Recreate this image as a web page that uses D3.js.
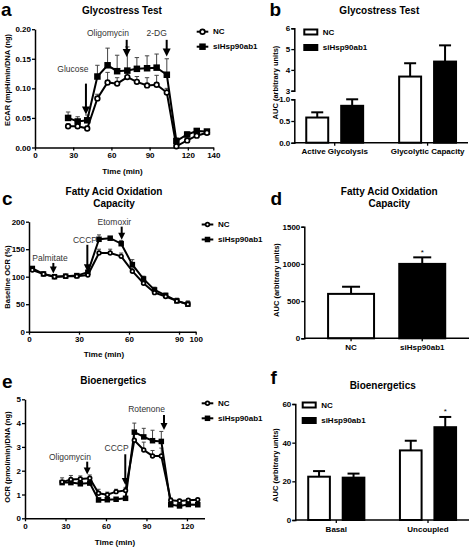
<!DOCTYPE html>
<html><head><meta charset="utf-8">
<script src="https://cdn.jsdelivr.net/npm/d3@7"></script>
<style>body{margin:0;background:#fff} text{font-family:"Liberation Sans",Arial,sans-serif}</style>
</head><body><svg id="c" width="472" height="547"></svg>
<script>
// ---------- data ----------
const seriesNames = ["NC", "siHsp90ab1"];

// panel a: Glycostress time course
const glycoTime  = [26, 33.5, 41, 49, 57, 64.5, 72.5, 80, 88, 95.5, 103.5, 111, 119.5, 127, 135];
const glycoNC    = [0.036, 0.036, 0.032, 0.083, 0.110, 0.108, 0.119, 0.111, 0.105, 0.106, 0.093, 0.002, 0.012, 0.020, 0.025];
const glycoNCErr = [0.040, 0.040, 0.036, 0.090, 0.127, 0.118, 0.128, 0.120, 0.118, 0.122, 0.100, 0.004, 0.016, 0.024, 0.028];
const glycoSi    = [0.050, 0.044, 0.046, 0.120, 0.139, 0.129, 0.130, 0.133, 0.134, 0.135, 0.123, 0.011, 0.022, 0.028, 0.027];
const glycoSiErr = [0.060, 0.052, 0.055, 0.139, 0.168, 0.156, 0.170, 0.152, 0.155, 0.158, 0.150, 0.016, 0.026, 0.031, 0.030];
const glycoXTicks = [0, 30, 60, 90, 120, 140];
const glycoYTicks = [0, 0.05, 0.10, 0.15, 0.20];
const glycoArrows = [
  {label: "Glucose",    t: 40,    top: 0.108, tip: 0.056, lt: 29.8, lv: 0.133},
  {label: "Oligomycin", t: 72,    top: 0.182, tip: 0.153, lt: 57.3, lv: 0.194},
  {label: "2-DG",       t: 103.4, top: 0.182, tip: 0.154, lt: 95.5, lv: 0.194}
];

// panel b: Glycostress AUC
const glycoCats     = ["Active Glycolysis", "Glycolytic Capacity"];
const glycoAucNC    = [0.58, 3.68];
const glycoAucNCErr = [0.70, 4.32];
const glycoAucSi    = [0.85, 4.40];
const glycoAucSiErr = [1.00, 5.18];
const glycoAucLowTicks  = [0, 0.5, 1.0];
const glycoAucHighTicks = [3, 4, 5, 6];

// panel c: FAO time course
const faoTime  = [2, 8.7, 15.3, 22, 28.7, 35.3, 42, 48.7, 55.3, 62, 68.7, 75.3, 82, 88.7, 95.3];
const faoNC    = [112, 105, 100, 101, 101, 103, 143, 143, 137, 110, 88, 71, 64, 56, 50];
const faoNCErr = [116, 108, 103, 103, 104, 106, 150, 150, 143, 116, 93, 75, 68, 61, 56];
const faoSi    = [115, 105, 100, 101, 102, 108, 168, 170, 160, 122, 96, 76, 66, 56, 50];
const faoSiErr = [118, 107, 102, 103, 105, 112, 176, 172, 166, 131, 101, 81, 70, 60, 55];
const faoXTicks = [0, 30, 60, 90, 100];
const faoYTicks = [0, 50, 100, 150, 200];
const faoArrows = [
  {label: "Palmitate", t: 14.6, top: 125, tip: 106, lt: 12.6, lv: 134},
  {label: "CCCP",      t: 35,   top: 158, tip: 110, lt: 33.6, lv: 167},
  {label: "Etomoxir",  t: 55.6, top: 191, tip: 167, lt: 51.2, lv: 200}
];

// panel d: FAO AUC
const faoAucCats = ["NC", "siHsp90ab1"];
const faoAuc     = [597, 1000];
const faoAucErr  = [693, 1088];
const faoAucSig  = ["", "*"];
const faoAucTicks = [0, 500, 1000, 1500];

// panel e: Bioenergetics time course
const bioTime  = [27.5, 34, 41, 48, 54.5, 61, 67.5, 74.5, 81, 88, 94.5, 101, 108, 114.5, 121, 128];
const bioNC    = [1.52, 1.63, 1.65, 1.68, 1.05, 0.99, 1.12, 1.17, 3.28, 2.87, 2.62, 2.62, 0.76, 0.73, 0.76, 0.78];
const bioNCErr = [1.70, 1.80, 1.78, 1.82, 1.22, 1.10, 1.22, 1.30, 3.60, 3.20, 2.85, 2.95, 0.85, 0.80, 0.82, 0.84];
const bioSi    = [1.50, 1.50, 1.45, 1.48, 0.77, 0.78, 0.80, 0.84, 3.62, 3.42, 3.26, 3.23, 0.57, 0.52, 0.58, 0.57];
const bioSiErr = [1.60, 1.60, 1.55, 1.60, 0.85, 0.85, 0.86, 0.92, 4.00, 3.78, 3.70, 3.65, 0.65, 0.60, 0.65, 0.64];
const bioXTicks = [0, 30, 60, 90, 120];
const bioYTicks = [0, 1, 2, 3, 4, 5];
const bioArrows = [
  {label: "Oligomycin", t: 46.1, top: 2.38, tip: 1.84, lt: 33.3, lv: 2.56},
  {label: "CCCP",       t: 74.3, top: 2.69, tip: 1.40, lt: 67.9, lv: 2.94},
  {label: "Rotenone",   t: 103,  top: 4.34, tip: 3.71, lt: 90.1, lv: 4.58}
];

// panel f: Bioenergetics AUC
const bioCats     = ["Basal", "Uncoupled"];
const bioAucNC    = [22.4, 36.0];
const bioAucNCErr = [25.3, 41.0];
const bioAucSi    = [21.9, 48.0];
const bioAucSiErr = [24.0, 53.3];
const bioAucSigNC = ["", ""];
const bioAucSigSi = ["", "*"];
const bioAucTicks = [0, 20, 40, 60];

// ---------- drawing ----------
const FONT = '"Liberation Sans", Arial, sans-serif';
const svg = d3.select("#c");
svg.append("rect").attr("width", 472).attr("height", 547).attr("fill", "#fff");

function txt(g, x, y, s, o = {}) {
  const t = g.append("text").attr("x", x).attr("y", y).text(s)
    .attr("font-family", FONT)
    .attr("font-size", o.size || 8)
    .attr("font-weight", o.weight || "bold")
    .attr("text-anchor", o.anchor || "middle")
    .attr("dominant-baseline", o.base || "central")
    .attr("fill", o.fill || "#000");
  if (o.rotate) t.attr("transform", `rotate(-90,${x},${y})`);
  return t;
}
function styleAxis(sel) {
  sel.select(".domain").attr("stroke", "#000").attr("stroke-width", 1.5);
  sel.selectAll(".tick line").attr("stroke", "#000").attr("stroke-width", 1.3);
  sel.selectAll(".tick text").attr("font-size", 8).attr("font-weight", "bold")
    .attr("font-family", FONT).attr("fill", "#000");
}
function arrow(g, x, yTop, yTip, hw, hl, sw) {
  g.append("line").attr("x1", x).attr("x2", x).attr("y1", yTop).attr("y2", yTip - hl + 1)
    .attr("stroke", "#000").attr("stroke-width", sw);
  g.append("path").attr("d", `M${x - hw / 2},${yTip - hl}L${x + hw / 2},${yTip - hl}L${x},${yTip}Z`)
    .attr("fill", "#000");
}
function drawMarker(g, kind, cx, cy, ms) {
  if (kind === "sq") {
    g.append("rect").attr("x", cx - ms / 2).attr("y", cy - ms / 2).attr("width", ms).attr("height", ms).attr("fill", "#000");
  } else {
    g.append("circle").attr("cx", cx).attr("cy", cy).attr("r", ms / 2 - 0.9)
      .attr("fill", "#fff").attr("stroke", "#000").attr("stroke-width", 1.7);
  }
}

function linePanel(o) {
  const g = svg.append("g");
  const x = d3.scaleLinear().domain(o.xDomain).range(o.xRange);
  const y = d3.scaleLinear().domain(o.yDomain).range(o.yRange);
  const xa = g.append("g").attr("transform", `translate(0,${o.yRange[0]})`)
    .call(d3.axisBottom(x).tickValues(o.xTicks).tickSize(3).tickSizeOuter(0).tickPadding(2).tickFormat(d3.format("d")));
  styleAxis(xa);
  const ya = g.append("g").attr("transform", `translate(${o.xRange[0]},0)`)
    .call(d3.axisLeft(y).tickValues(o.yTicks).tickSize(3).tickSizeOuter(0).tickPadding(1).tickFormat(o.yFmt));
  styleAxis(ya);

  const series = [
    {v: o.si, e: o.siErr, kind: "sq"},
    {v: o.nc, e: o.ncErr, kind: "ci"}
  ];
  series.forEach(s => {
    o.t.forEach((t, i) => {
      const cx = x(t);
      g.append("line").attr("x1", cx).attr("x2", cx).attr("y1", y(s.v[i])).attr("y2", y(s.e[i]))
        .attr("stroke", "#444").attr("stroke-width", 1);
      g.append("line").attr("x1", cx - o.cap).attr("x2", cx + o.cap).attr("y1", y(s.e[i])).attr("y2", y(s.e[i]))
        .attr("stroke", "#444").attr("stroke-width", 1);
    });
  });
  o.arrows.forEach(a => {
    arrow(g, x(a.t), y(a.top), y(a.tip), o.hw, o.hl, 2);
    txt(g, x(a.lt), y(a.lv), a.label, {weight: "normal", size: 8.5, fill: "#333"});
  });
  const line = d3.line().x((d, i) => x(o.t[i])).y(d => y(d));
  series.forEach(s => {
    g.append("path").datum(s.v).attr("d", line).attr("fill", "none")
      .attr("stroke", "#000").attr("stroke-width", o.lw);
    o.t.forEach((t, i) => drawMarker(g, s.kind, x(t), y(s.v[i]), o.ms));
  });
  o.title.forEach((tl, i) => txt(g, o.titleX, o.titleY + i * 11.5, tl, {size: 10}));
  txt(g, o.letterX, o.letterY, o.letter, {size: 19, anchor: "start", base: "auto"});
  txt(g, o.xLabelX, o.xLabelY, "Time (min)");
  txt(g, o.yLabelX, o.yLabelY, o.yLabel, {size: 7.5, rotate: true});
  [{k: "ci", n: seriesNames[0]}, {k: "sq", n: seriesNames[1]}].forEach((l, i) => {
    const ly = o.legY + i * 15;
    g.append("line").attr("x1", o.legX).attr("x2", o.legX + 11.6).attr("y1", ly).attr("y2", ly)
      .attr("stroke", "#000").attr("stroke-width", 2);
    drawMarker(g, l.k, o.legX + 5.8, ly, o.ms);
    txt(g, o.legX + 16.3, ly, l.n, {anchor: "start"});
  });
}

function barPanel(o) {
  const g = svg.append("g");
  const x0 = d3.scaleBand().domain(o.cats).range(o.xRange).paddingInner(o.pi).paddingOuter(o.po);
  const x1 = d3.scaleBand().domain(o.series).range([0, x0.bandwidth()]).paddingInner(o.spi);
  o.cats.forEach((c, ci) => {
    o.series.forEach((s, si) => {
      const v = o.vals[si][ci], e = o.errs[si][ci];
      const ys = o.yFor(v);
      const bx = x0(c) + x1(s), bw = x1.bandwidth(), cx = bx + bw / 2;
      const yv = ys(v), ye = ys(e);
      g.append("line").attr("x1", cx).attr("x2", cx).attr("y1", yv).attr("y2", ye).attr("stroke", "#000").attr("stroke-width", 2);
      g.append("line").attr("x1", cx - o.cap).attr("x2", cx + o.cap).attr("y1", ye).attr("y2", ye).attr("stroke", "#000").attr("stroke-width", 2);
      g.append("rect").attr("x", bx + 1).attr("y", yv).attr("width", bw - 2).attr("height", o.base - yv)
        .attr("fill", o.fills[si][ci]).attr("stroke", "#000").attr("stroke-width", 2);
      const sig = o.sig ? o.sig[si][ci] : "";
      if (sig) txt(g, cx, ye - 5, sig, {size: 8, weight: "normal"});
    });
  });
  const xa = g.append("g").attr("transform", `translate(0,${o.base})`)
    .call(d3.axisBottom(x0).tickSize(3).tickSizeOuter(0).tickPadding(3));
  styleAxis(xa);
  xa.select(".domain").attr("d", `M${o.xRange[0]},0H${o.xRange[1]}`);
  o.yAxes.forEach(ax => {
    const a = g.append("g").attr("transform", `translate(${o.xRange[0]},0)`)
      .call(d3.axisLeft(ax.scale).tickValues(ax.ticks).tickSize(3).tickSizeOuter(3).tickPadding(1).tickFormat(ax.fmt));
    styleAxis(a);
  });
  o.title.forEach((tl, i) => txt(g, o.titleX, o.titleY + i * 11.5, tl, {size: 10}));
  txt(g, o.letterX, o.letterY, o.letter, {size: 19, anchor: "start", base: "auto"});
  txt(g, o.yLabelX, o.yLabelY, "AUC (arbitrary units)", {size: 7.5, rotate: true});
  if (o.legY != null) {
    seriesNames.forEach((s, i) => {
      const ly = o.legY + i * 15.5;
      g.append("rect").attr("x", o.legX).attr("y", ly - 2.5).attr("width", 13).attr("height", 5)
        .attr("fill", i === 0 ? "#fff" : "#000").attr("stroke", "#000").attr("stroke-width", 2);
      txt(g, o.legX + 18.5, ly, s, {anchor: "start"});
    });
  }
}

// panel a
linePanel({
  t: glycoTime, nc: glycoNC, ncErr: glycoNCErr, si: glycoSi, siErr: glycoSiErr,
  xDomain: [0, 140], xRange: [35, 213.3], yDomain: [0, 0.2], yRange: [147.5, 29.2],
  xTicks: glycoXTicks, yTicks: glycoYTicks, yFmt: d3.format(".2f"),
  arrows: glycoArrows, hw: 8, hl: 8, cap: 2.2, lw: 2, ms: 6.5,
  title: ["Glycostress Test"], titleX: 122, titleY: 10, letter: "a", letterX: 1, letterY: 15.5,
  xLabelX: 122.5, xLabelY: 171.5, yLabelX: 7.5, yLabelY: 80, yLabel: "ECAR (mpH/min/DNA (ng)",
  legX: 196.7, legY: 31.7
});
// panel c
linePanel({
  t: faoTime, nc: faoNC, ncErr: faoNCErr, si: faoSi, siErr: faoSiErr,
  xDomain: [0, 100], xRange: [29, 195.7], yDomain: [0, 200], yRange: [331.7, 221.7],
  xTicks: faoXTicks, yTicks: faoYTicks, yFmt: d3.format("d"),
  arrows: faoArrows, hw: 7, hl: 7, cap: 2, lw: 2, ms: 5.5,
  title: ["Fatty Acid Oxidation", "Capacity"], titleX: 114, titleY: 191.7, letter: "c", letterX: 2, letterY: 205,
  xLabelX: 104, xLabelY: 354.3, yLabelX: 7, yLabelY: 277, yLabel: "Baseline OCR (%)",
  legX: 201.7, legY: 224.5
});
// panel e
linePanel({
  t: bioTime, nc: bioNC, ncErr: bioNCErr, si: bioSi, siErr: bioSiErr,
  xDomain: [0, 133], xRange: [25, 204.5], yDomain: [0, 5], yRange: [518.3, 399.3],
  xTicks: bioXTicks, yTicks: bioYTicks, yFmt: d3.format("d"),
  arrows: bioArrows, hw: 7, hl: 7, cap: 2, lw: 2, ms: 5.5,
  title: ["Bioenergetics"], titleX: 113.3, titleY: 380, letter: "e", letterX: 2, letterY: 387.5,
  xLabelX: 115, xLabelY: 542.7, yLabelX: 7.5, yLabelY: 457, yLabel: "OCR (pmol/min)/DNA (ng)",
  legX: 201.7, legY: 403.3
});

// panel b (broken axis)
const bLow = d3.scaleLinear().domain([0, 1]).range([142.7, 99.3]);
const bHigh = d3.scaleLinear().domain([3, 6]).range([90.7, 28.3]);
barPanel({
  cats: glycoCats, series: seriesNames, vals: [glycoAucNC, glycoAucSi], errs: [glycoAucNCErr, glycoAucSiErr],
  fills: [["#fff", "#fff"], ["#000", "#000"]],
  xRange: [294.3, 468], pi: 0.366, po: 0.118, spi: 0.314, base: 142.7, cap: 6,
  yFor: v => (v > 1.5 ? bHigh : bLow),
  yAxes: [{scale: bLow, ticks: glycoAucLowTicks, fmt: d3.format(".1f")},
          {scale: bHigh, ticks: glycoAucHighTicks, fmt: d3.format("d")}],
  title: ["Glycostress Test"], titleX: 379.3, titleY: 10, letter: "b", letterX: 269.5, letterY: 16,
  yLabelX: 275.3, yLabelY: 82.5, legX: 304.3, legY: 32
});
// panel d
const dY = d3.scaleLinear().domain([0, 1500]).range([338.3, 226.7]);
barPanel({
  cats: faoAucCats, series: ["v"], vals: [faoAuc], errs: [faoAucErr], sig: [faoAucSig],
  fills: [["#fff", "#000"]],
  xRange: [304.3, 469], pi: 0.326, po: 0.32, spi: 0, base: 338.3, cap: 9,
  yFor: () => dY,
  yAxes: [{scale: dY, ticks: faoAucTicks, fmt: d3.format("d")}],
  title: ["Fatty Acid Oxidation", "Capacity"], titleX: 389.3, titleY: 191.7, letter: "d", letterX: 270.5, letterY: 205,
  yLabelX: 276, yLabelY: 280, legY: null
});
// panel f
const fY = d3.scaleLinear().domain([0, 60]).range([520, 404]);
barPanel({
  cats: bioCats, series: seriesNames, vals: [bioAucNC, bioAucSi], errs: [bioAucNCErr, bioAucSiErr],
  sig: [bioAucSigNC, bioAucSigSi],
  fills: [["#fff", "#fff"], ["#000", "#000"]],
  xRange: [295.3, 469], pi: 0.366, po: 0.13, spi: 0.314, base: 520, cap: 6,
  yFor: () => fY,
  yAxes: [{scale: fY, ticks: bioAucTicks, fmt: d3.format("d")}],
  title: ["Bioenergetics"], titleX: 382.7, titleY: 385, letter: "f", letterX: 270.5, letterY: 383.5,
  yLabelX: 275.3, yLabelY: 465, legX: 302.7, legY: 405
});
</script></body></html>
